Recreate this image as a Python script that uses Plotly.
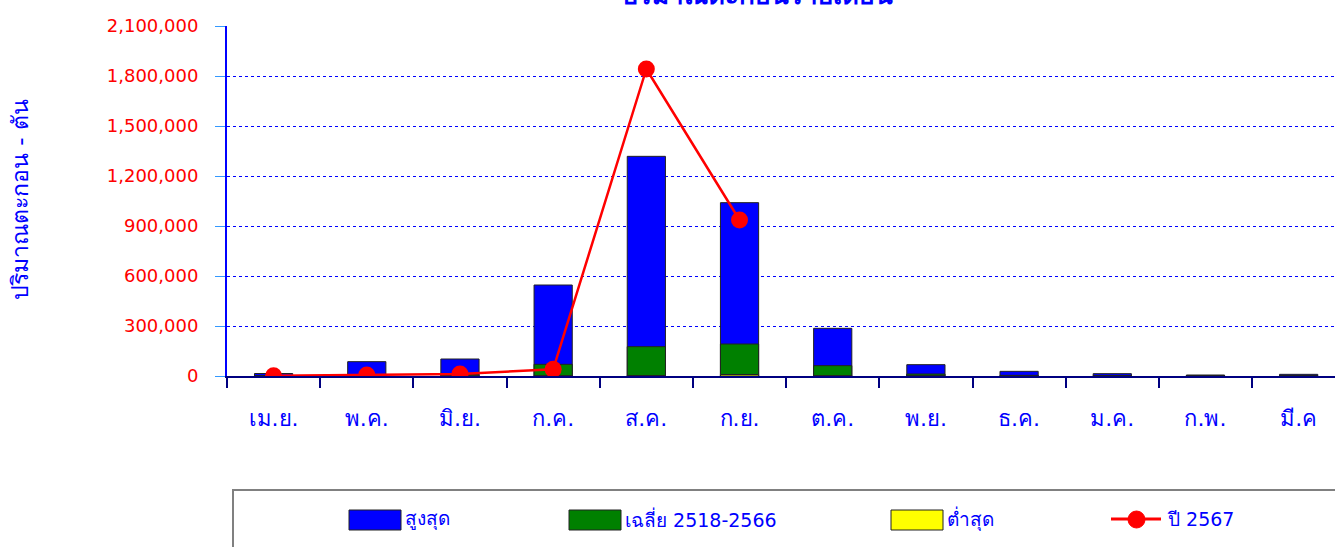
import plotly.graph_objects as go

# Monthly sediment (tons), water year April -> March
months = ["เม.ย.", "พ.ค.", "มิ.ย.", "ก.ค.", "ส.ค.", "ก.ย.", "ต.ค.", "พ.ย.", "ธ.ค.", "ม.ค.", "ก.พ.", "มี.ค"]
max_vals = [15000, 86000, 102000, 546000, 1318000, 1040000, 286000, 68000, 28000, 14000, 6000, 10000]
avg_vals = [2000, 8000, 10000, 70000, 176000, 192000, 62000, 12000, 4000, 2000, 1000, 1000]
min_vals = [0, 500, 1000, 2000, 3000, 9000, 2000, 500, 0, 0, 0, 0]
year_vals = [1000, 6000, 12000, 40000, 1842000, 936000]

y_ticks = list(range(0, 2100001, 300000))

names = ["สูงสุด", "เฉลี่ย 2518-2566", "ต่ำสุด", "ปี 2567"]
colors = ["#0000FF", "#008000", "#FFFF00", "#FF0000"]

FONT = "DejaVu Sans, Tahoma, sans-serif"
W, H = 1335, 547
ML, MT, MB = 227, 26, 171
PW, PH = W - ML, H - MT - MB

fig = go.Figure()
for vals, name, col in zip([max_vals, avg_vals, min_vals], names[:3], colors[:3]):
    fig.add_trace(go.Bar(
        x=months, y=vals, name=name, width=0.41,
        marker=dict(color=col, line=dict(color="#222222", width=1)),
        showlegend=False,
    ))

fig.add_trace(go.Scatter(
    x=months[:len(year_vals)], y=year_vals, name=names[3], mode="lines+markers",
    line=dict(color=colors[3], width=2.5),
    marker=dict(color=colors[3], size=17),
    showlegend=False,
))

def px_x(p):
    return (p - ML) / PW

def px_y(p):
    return (MT + PH - p) / PH

shapes = []
annotations = []

# legend frame
shapes.append(dict(type="rect", xref="paper", yref="paper",
                   x0=px_x(233), x1=px_x(1345), y0=px_y(560), y1=px_y(490),
                   line=dict(color="#808080", width=2), fillcolor="white", layer="above"))

# legend entries
sw_left = [349, 569, 891, 1111]
for i, (name, col) in enumerate(zip(names, colors)):
    x0 = sw_left[i]
    if i < 3:
        shapes.append(dict(type="rect", xref="paper", yref="paper",
                           x0=px_x(x0), x1=px_x(x0 + 52), y0=px_y(530), y1=px_y(510),
                           line=dict(color="#222222", width=1), fillcolor=col, layer="above"))
    else:
        shapes.append(dict(type="line", xref="paper", yref="paper",
                           x0=px_x(x0), x1=px_x(x0 + 50), y0=px_y(519), y1=px_y(519),
                           line=dict(color=col, width=3), layer="above"))
        shapes.append(dict(type="circle", xref="paper", yref="paper",
                           x0=px_x(x0 + 17), x1=px_x(x0 + 34), y0=px_y(528), y1=px_y(511),
                           line=dict(color=col, width=1), fillcolor=col, layer="above"))
    annotations.append(dict(text=name, xref="paper", yref="paper", x=px_x(x0 + 54), y=px_y(519),
                            xanchor="left", yanchor="middle", showarrow=False,
                            font=dict(family=FONT, size=19, color="#0000FF")))

# chart title (sits at the very top edge)
annotations.append(dict(text="<b>ปริมาณตะกอนรายเดือน</b>", xref="paper", yref="paper",
                        x=px_x(757), y=px_y(12), xanchor="center", yanchor="bottom",
                        showarrow=False, font=dict(family=FONT, size=26, color="#0000FF")))

# y-axis title
annotations.append(dict(text="ปริมาณตะกอน - ตัน", xref="paper", yref="paper",
                        x=px_x(20), y=px_y(200), xanchor="center", yanchor="middle",
                        textangle=-90, showarrow=False,
                        font=dict(family=FONT, size=23, color="#0000FF")))

fig.update_layout(
    width=W, height=H,
    margin=dict(l=ML, r=0, t=MT, b=MB, autoexpand=False),
    paper_bgcolor="white", plot_bgcolor="white",
    barmode="overlay", showlegend=False,
    shapes=shapes, annotations=annotations,
    xaxis=dict(
        type="category", range=[-0.5, 11.39],
        tickson="boundaries", ticks="outside", ticklen=10, tickwidth=1.5, tickcolor="#000080",
        showline=True, linecolor="#000080", linewidth=2,
        showgrid=False, ticklabelstandoff=22,
        tickfont=dict(family=FONT, size=22, color="#0000FF"),
    ),
    yaxis=dict(
        range=[0, 2100000], tickvals=y_ticks,
        ticktext=[f"{v:,}" for v in y_ticks],
        ticks="outside", ticklen=10, tickcolor="#3399FF", tickwidth=1,
        showline=True, linecolor="#0000FF", linewidth=2,
        showgrid=True, gridcolor="#0000FF", griddash="dot", gridwidth=1,
        zeroline=False, ticklabelstandoff=13,
        tickfont=dict(family=FONT, size=18, color="#FF0000"),
    ),
)

fig.write_html("out.html")
